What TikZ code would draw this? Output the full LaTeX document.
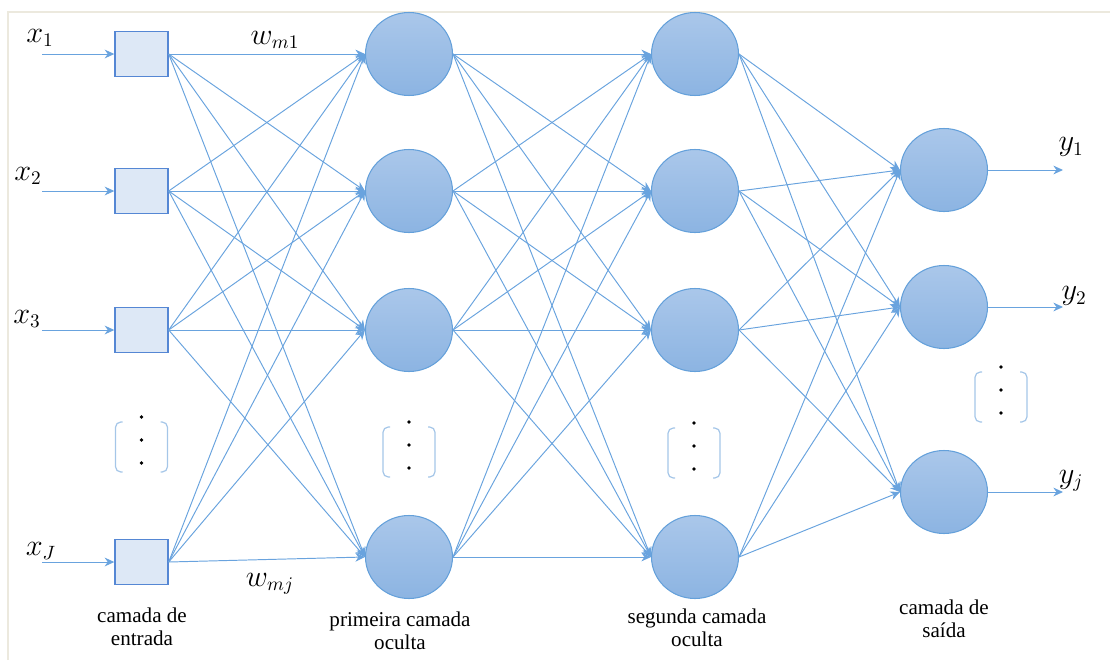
\documentclass[tikz,border=0pt]{standalone}
\usepackage{fontspec}
\setmainfont{Liberation Serif}
\newfontfamily\capfont{Liberation Serif}
\usetikzlibrary{shapes.geometric,arrows.meta}
\definecolor{lnblue}{RGB}{105,163,222}
\definecolor{nodeedge}{RGB}{100,160,218}
\definecolor{ntop}{RGB}{170,199,234}
\definecolor{nbot}{RGB}{140,180,226}
\definecolor{boxfill}{RGB}{221,232,246}
\definecolor{boxedge}{RGB}{85,135,212}
\definecolor{framec}{RGB}{236,233,222}
\definecolor{brk}{RGB}{165,198,232}
\tikzset{
  inbox/.style={draw=boxedge, fill=boxfill, line width=0.8pt, minimum width=1.06cm, minimum height=0.9cm, inner sep=0pt},
  neuron/.style={ellipse, draw=nodeedge, line width=0.6pt, top color=ntop, bottom color=nbot, minimum width=1.74cm, minimum height=1.66cm, inner sep=0pt},
  conn/.style={draw=lnblue, line width=0.55pt, -{Stealth[length=5.5pt,width=5pt]}},
  lab/.style={font=\capfont\fontsize{12}{13}\selectfont, align=center, inner sep=0pt},
  mlab/.style={font=\fontsize{16}{18}\selectfont, inner sep=0pt},
  brack/.style={draw=brk, line width=0.7pt, rounded corners=3pt},
}
\begin{document}
\begin{tikzpicture}[x=0.02cm,y=-0.02cm]
\useasboundingbox (0,0) rectangle (1110,660);
\draw[framec, line width=1pt] (8,660) -- (8,12) -- (1110,12);

% input layer
\foreach \i/\y in {1/54,2/191,3/330,4/562}{
  \node[inbox] (i\i) at (141.5,\y) {};
  \coordinate (s\i) at (42,\y);
  \draw[conn] (s\i) -- (i\i.west);
}
% hidden layers
\foreach \i/\y in {1/54,2/191,3/330,4/557}{
  \node[neuron] (a\i) at (409,\y) {};
  \node[neuron] (b\i) at (695,\y) {};
}
% output layer
\foreach \i/\y in {1/170,2/307,3/492}{
  \node[neuron] (o\i) at (944,\y) {};
  \coordinate (e\i) at (1063,\y);
  \draw[conn] (o\i.east) -- (e\i);
}
% connections
\foreach \s in {1,...,4}{
  \foreach \t in {1,...,4}{
    \draw[conn] (i\s.east) -- (a\t.west);
    \draw[conn] (a\s.east) -- (b\t.west);
  }
  \foreach \t in {1,...,3}{
    \draw[conn] (b\s.east) -- (o\t.west);
  }
}
% dots with brackets
\foreach \n/\cx/\cy in {p/141.5/447,q/409/452,r/694/453,s/1001/397}{
  \draw[brack] (\cx-19,\cy-25) -- (\cx-26,\cy-25) -- (\cx-26,\cy+25) -- (\cx-19,\cy+25);
  \draw[brack] (\cx+19,\cy-25) -- (\cx+26,\cy-25) -- (\cx+26,\cy+25) -- (\cx+19,\cy+25);
  \foreach \d in {-30,-7,16}{
    \fill[black] (\cx,\cy+\d) circle (1.1pt);
  }
}
% input labels
\node[mlab] (lx1) at (40,38) {$x_1$};
\node[mlab] (lx2) at (28,176) {$x_2$};
\node[mlab] (lx3) at (27,319) {$x_3$};
\node[mlab] (lxj) at (41,551) {$x_J$};
% output labels
\node[mlab] (ly1) at (1071,147) {$y_1$};
\node[mlab] (ly2) at (1074,296) {$y_2$};
\node[mlab] (lyj) at (1071,481) {$y_j$};
% weights
\node[mlab] (w1) at (275,40) {$w_{m1}$};
\node[mlab] (wj) at (270,584) {$w_{mj}$};
% layer captions
\node[lab] (c1) at (142,627) {camada de\\entrada};
\node[lab] (c2) at (400,631) {primeira camada\\oculta};
\node[lab] (c3) at (697,628) {segunda camada\\oculta};
\node[lab] (c4) at (944,619) {camada de\\saída};
\end{tikzpicture}
\end{document}
